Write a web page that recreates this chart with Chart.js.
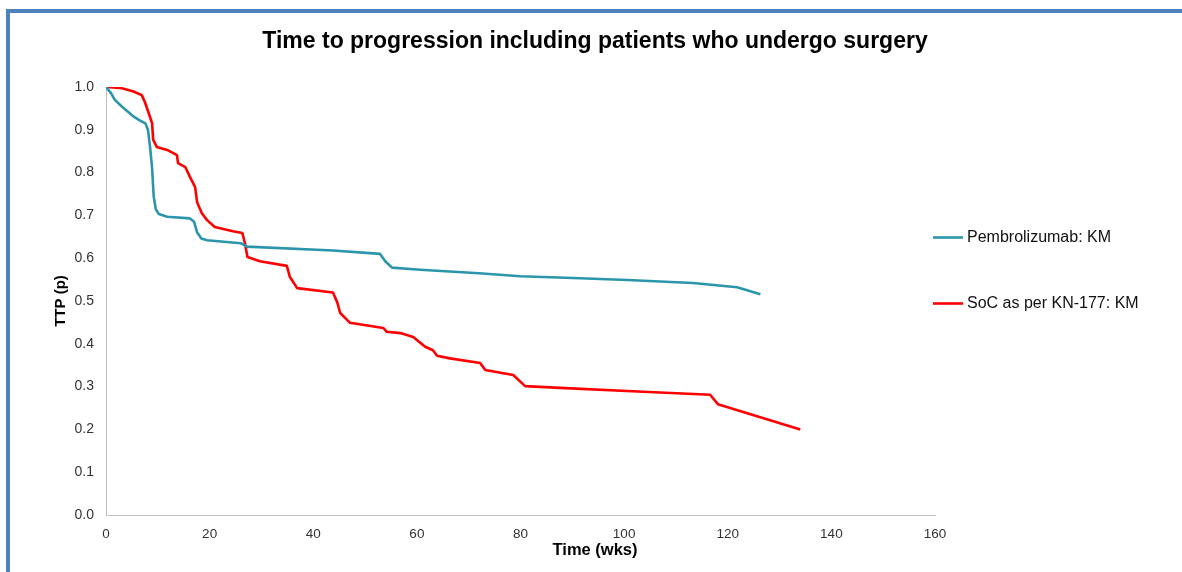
<!DOCTYPE html>
<html>
<head>
<meta charset="utf-8">
<title>Time to progression including patients who undergo surgery</title>
<script src="https://cdn.jsdelivr.net/npm/chart.js@4.4.1/dist/chart.umd.min.js"></script>
<style>
  html, body { margin: 0; padding: 0; background: #ffffff; overflow: hidden; }
  #wrap { position: relative; width: 1182px; height: 572px; overflow: hidden; }
  #frame {
    position: absolute; left: 6px; top: 9px; right: -20px; bottom: -20px;
    border-top: 4px solid #4f81bd; border-left: 4px solid #4f81bd;
  }
  #c { position: absolute; left: 0; top: 0; }
</style>
</head>
<body>
<div id="wrap">
  <div id="frame"></div>
  <canvas id="c" width="1182" height="572"></canvas>
</div>
<script>
// Kaplan-Meier time to progression, weeks vs probability
const seriesNames = ['Pembrolizumab: KM', 'SoC as per KN-177: KM'];

const pembroTime = [0, 1.0, 1.7, 3.0, 5.2, 6.5, 7.6, 8.1, 8.5, 8.9, 9.2, 9.6, 10.2, 11.8, 16.2, 17.0,
  17.6, 18.4, 19.5, 26.0, 27.2, 43.8, 52.9, 53.9, 55.2, 60.6, 72.0, 80.0, 91.5, 100.6, 113.3, 121.8, 126.3];
const pembroTTP = [1.0, 0.985, 0.97, 0.955, 0.932, 0.922, 0.915, 0.90, 0.86, 0.81, 0.745, 0.715, 0.703, 0.697, 0.693, 0.685,
  0.66, 0.646, 0.642, 0.635, 0.627, 0.618, 0.61, 0.593, 0.578, 0.573, 0.565, 0.558, 0.553, 0.549, 0.542, 0.532, 0.516];

const socTime = [0, 2.7, 5.2, 6.9, 7.5, 8.5, 8.9, 9.1, 9.8, 11.8, 13.7, 13.9, 15.3, 16.2, 17.2, 17.6, 18.5, 19.5,
  21.0, 24.5, 26.3, 26.8, 27.3, 29.7, 34.9, 35.5, 36.9, 43.8, 44.6, 45.2, 47.1, 53.5, 54.2, 56.8, 59.3, 61.6,
  63.1, 63.9, 66.4, 72.2, 73.2, 78.6, 80.9, 87.6, 103.7, 116.6, 118.1, 134.0];
const socTTP = [1.0, 0.998, 0.99, 0.981, 0.965, 0.93, 0.915, 0.877, 0.86, 0.853, 0.841, 0.822, 0.813, 0.79, 0.766, 0.73, 0.705, 0.689,
  0.673, 0.663, 0.659, 0.636, 0.603, 0.593, 0.582, 0.556, 0.53, 0.52, 0.498, 0.472, 0.449, 0.437, 0.428, 0.425, 0.416, 0.393,
  0.385, 0.372, 0.366, 0.355, 0.339, 0.327, 0.301, 0.297, 0.288, 0.281, 0.259, 0.2];

const xTicks = [0, 20, 40, 60, 80, 100, 120, 140, 160];
const yTicks = [0.0, 0.1, 0.2, 0.3, 0.4, 0.5, 0.6, 0.7, 0.8, 0.9, 1.0];

const FONT = "'Liberation Sans', Arial, Helvetica, sans-serif";
const TEAL = '#2b95ac';
const RED = '#ff0000';
const LEFT_PAD = 8;

const toPoints = (xs, ys) => xs.map((x, i) => ({ x: x, y: ys[i] }));

// Legend column on the right, added to the layout as its own box
const sideLegend = {
  id: 'sideLegend',
  beforeInit(chart, args, opts) {
    const box = {
      position: 'right',
      weight: 100,
      fullSize: false,
      options: {},
      isHorizontal() { return false; },
      update(maxWidth, maxHeight) { this.width = opts.width; this.height = maxHeight; },
      draw() {
        const ctx = chart.ctx;
        ctx.save();
        ctx.font = opts.fontSize + 'px ' + FONT;
        ctx.textAlign = 'left';
        ctx.textBaseline = 'middle';
        chart.data.datasets.forEach((ds, i) => {
          const y = this.top + opts.firstOffset + i * opts.spacing;
          const x0 = this.left + opts.lineStart;
          ctx.strokeStyle = ds.borderColor;
          ctx.lineWidth = ds.borderWidth;
          ctx.lineCap = 'butt';
          ctx.beginPath();
          ctx.moveTo(x0, y);
          ctx.lineTo(x0 + opts.lineLength, y);
          ctx.stroke();
          ctx.fillStyle = '#111111';
          ctx.fillText(ds.label, x0 + opts.lineLength + opts.gap, y);
        });
        ctx.restore();
      }
    };
    Chart.layouts.addBox(chart, box);
  }
};

new Chart(document.getElementById('c'), {
  type: 'line',
  data: {
    datasets: [
      {
        label: seriesNames[0],
        data: toPoints(pembroTime, pembroTTP),
        borderColor: TEAL,
        backgroundColor: TEAL,
        borderWidth: 2.6,
        pointRadius: 0,
        tension: 0,
        fill: false,
        borderJoinStyle: 'round'
      },
      {
        label: seriesNames[1],
        data: toPoints(socTime, socTTP),
        borderColor: RED,
        backgroundColor: RED,
        borderWidth: 2.6,
        pointRadius: 0,
        tension: 0,
        fill: false,
        borderJoinStyle: 'round'
      }
    ]
  },
  options: {
    responsive: false,
    animation: false,
    events: [],
    layout: { padding: { left: LEFT_PAD, right: 0, top: 0, bottom: 0 } },
    plugins: {
      legend: { display: false },
      tooltip: { enabled: false },
      title: {
        display: true,
        text: 'Time to progression including patients who undergo surgery',
        color: '#000000',
        font: { family: FONT, size: 23, weight: 'bold' },
        padding: { top: 28, bottom: 31.4 }
      },
      subtitle: {
        display: true,
        position: 'bottom',
        text: 'Time (wks)',
        color: '#000000',
        font: { family: FONT, size: 16.5, weight: 'bold' },
        padding: { top: 1, bottom: 11.2 }
      },
      sideLegend: {
        width: 247,
        fontSize: 16,
        firstOffset: 150.5,
        spacing: 66,
        lineStart: -2,
        lineLength: 30,
        gap: 4
      }
    },
    scales: {
      x: {
        type: 'linear',
        min: 0,
        max: 160,
        afterBuildTicks: (s) => { s.ticks = xTicks.map(v => ({ value: v })); },
        afterFit: (s) => { s.height = 25; },
        grid: { display: false, drawTicks: false },
        border: { display: true, color: '#c0c0c0', width: 1 },
        ticks: {
          padding: 11,
          color: '#333333',
          font: { family: FONT, size: 13.5 },
          maxRotation: 0,
          callback: (v) => String(v)
        }
      },
      y: {
        type: 'linear',
        min: 0,
        max: 1,
        afterBuildTicks: (s) => { s.ticks = yTicks.map(v => ({ value: v })); },
        afterFit: (s) => { s.width = 106 - LEFT_PAD; },
        grid: { display: false, drawTicks: false },
        border: { display: true, color: '#c0c0c0', width: 1 },
        title: {
          display: true,
          text: 'TTP (p)',
          color: '#000000',
          font: { family: FONT, size: 15, weight: 'bold' },
          padding: { top: 44, bottom: 0 }
        },
        ticks: {
          padding: 12,
          color: '#333333',
          font: { family: FONT, size: 14 },
          callback: (v) => Number(v).toFixed(1)
        }
      }
    }
  },
  plugins: [sideLegend]
});
</script>
</body>
</html>
